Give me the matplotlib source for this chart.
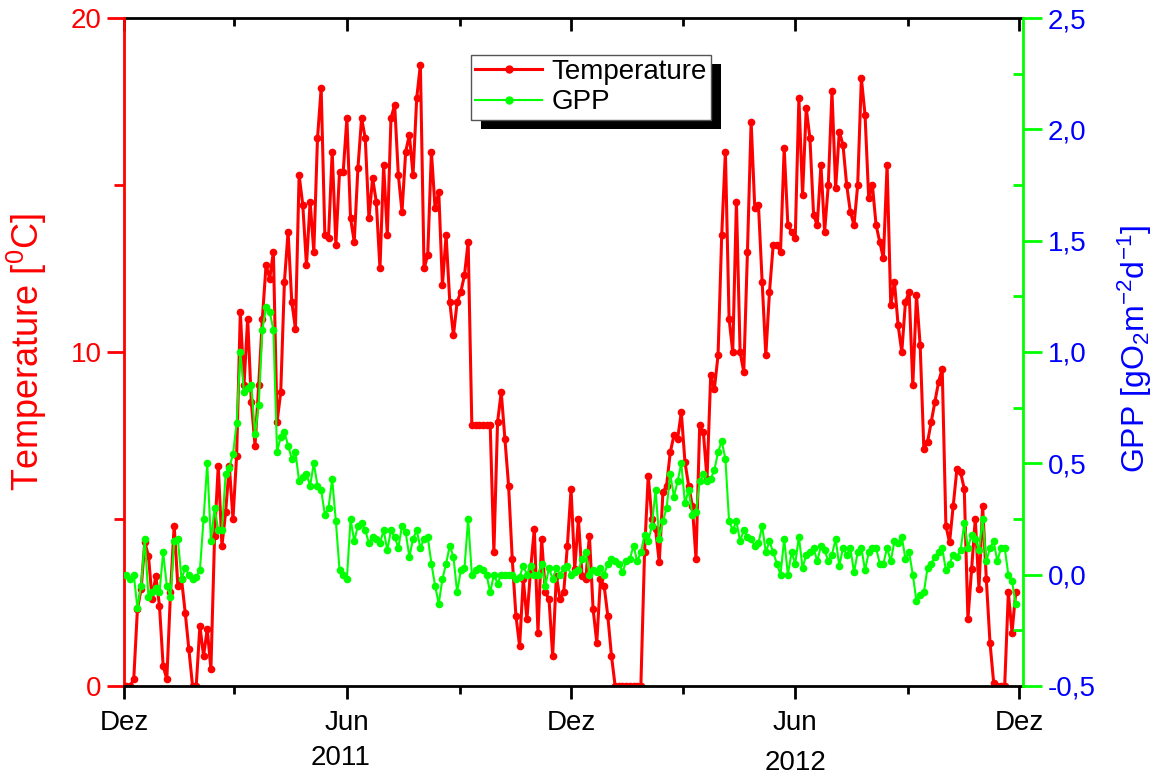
import pandas as pd
import matplotlib
matplotlib.use('Agg')
import matplotlib.pyplot as plt
import matplotlib.dates as mdates
import matplotlib.transforms as mtransforms
from matplotlib.patches import Rectangle
from matplotlib.ticker import MultipleLocator, FuncFormatter, NullFormatter

# values, one every 3 days from 3 Dec 2010
temperature = [
    0.0, 0.0, 0.2, 2.3, 2.9, 4.3, 3.9, 2.6, 3.3, 2.4,
    0.6, 0.2, 2.8, 4.8, 3.0, 3.2, 2.2, 1.1, 0.0, 0.0,
    1.8, 0.9, 1.7, 0.5, 4.5, 6.6, 4.2, 5.2, 6.6, 5.0,
    6.9, 11.2, 9.0, 11.0, 8.5, 7.2, 9.0, 11.0, 12.6, 12.2,
    13.0, 7.9, 8.8, 12.1, 13.6, 11.5, 10.7, 15.3, 14.4, 12.6,
    14.5, 13.0, 16.4, 17.9, 13.5, 13.4, 16.0, 13.2, 15.4, 15.4,
    17.0, 14.0, 13.3, 15.5, 17.0, 16.4, 14.0, 15.2, 14.5, 12.5,
    15.6, 13.5, 17.0, 17.4, 15.3, 14.2, 16.0, 16.5, 15.3, 17.6,
    18.6, 12.5, 12.9, 16.0, 14.3, 14.8, 12.0, 13.5, 11.5, 10.5,
    11.5, 11.8, 12.3, 13.3, 7.8, 7.8, 7.8, 7.8, 7.8, 7.8,
    4.0, 7.9, 8.8, 7.4, 6.0, 3.8, 2.1, 1.2, 3.2, 2.0,
    3.5, 4.7, 1.6, 4.4, 2.8, 2.6, 0.9, 3.3, 2.6, 2.8,
    4.2, 5.9, 3.5, 5.0, 3.3, 3.2, 4.5, 2.3, 1.3, 3.2,
    3.0, 2.1, 0.9, 0.0, 0.0, 0.0, 0.0, 0.0, 0.0, 0.0,
    0.0, 4.0, 6.3, 5.0, 4.7, 3.7, 5.8, 6.0, 7.0, 7.5,
    7.4, 8.2, 6.7, 6.0, 5.4, 3.8, 7.8, 7.6, 6.2, 9.3,
    8.9, 9.9, 13.5, 16.0, 11.0, 10.0, 14.5, 10.0, 9.4, 13.0,
    16.9, 14.3, 14.4, 12.1, 9.9, 11.8, 13.2, 13.2, 13.0, 16.1,
    13.8, 13.6, 13.4, 17.6, 14.7, 17.3, 16.4, 14.1, 13.8, 15.6,
    13.6, 15.0, 17.8, 14.9, 16.6, 16.2, 15.0, 14.2, 13.8, 15.0,
    18.2, 17.1, 14.6, 15.0, 13.8, 13.3, 12.8, 15.6, 11.4, 12.1,
    10.8, 10.0, 11.5, 11.8, 9.0, 11.7, 10.2, 7.1, 7.3, 7.9,
    8.5, 9.1, 9.5, 4.8, 4.3, 5.4, 6.5, 6.4, 5.9, 2.0,
    3.5, 5.0, 2.9, 5.4, 3.2, 1.3, 0.1, 0.0, 0.0, 0.0,
    2.8, 1.6, 2.8,
]

gpp = [
    0.0, -0.02, 0.0, -0.15, -0.05, 0.16, -0.1, -0.08, -0.06, -0.08,
    0.1, -0.05, -0.1, 0.15, 0.16, -0.02, 0.03, 0.0, -0.02, -0.01,
    0.02, 0.25, 0.5, 0.15, 0.3, 0.2, 0.2, 0.45, 0.48, 0.54,
    0.68, 1.0, 0.82, 0.84, 0.85, 0.63, 0.76, 1.1, 1.2, 1.18,
    1.1, 0.55, 0.62, 0.64, 0.58, 0.52, 0.55, 0.42, 0.44, 0.45,
    0.4, 0.5, 0.4, 0.38, 0.27, 0.3, 0.43, 0.24, 0.02, 0.0,
    -0.02, 0.25, 0.15, 0.22, 0.23, 0.2, 0.14, 0.17, 0.16, 0.14,
    0.2, 0.11, 0.2, 0.17, 0.12, 0.22, 0.19, 0.08, 0.16, 0.2,
    0.12, 0.16, 0.17, 0.05, -0.05, -0.13, -0.02, 0.05, 0.13, 0.08,
    -0.08, 0.02, 0.03, 0.25, 0.0, 0.02, 0.03, 0.02, 0.0, -0.08,
    0.0, -0.04, 0.0, 0.0, 0.0, 0.0, -0.02, -0.01, 0.04, 0.0,
    0.04, 0.0, 0.0, 0.05, -0.05, 0.03, -0.02, 0.03, 0.0, 0.03,
    0.04, 0.0, 0.01, 0.02, 0.07, 0.1, 0.0, 0.02, 0.01, 0.03,
    0.0, 0.05, 0.07, 0.06, 0.05, 0.01, 0.06, 0.07, 0.13, 0.06,
    0.1, 0.18, 0.15, 0.22, 0.38, 0.16, 0.24, 0.3, 0.45, 0.35,
    0.42, 0.5, 0.32, 0.38, 0.27, 0.28, 0.42, 0.45, 0.42, 0.43,
    0.47, 0.55, 0.6, 0.52, 0.24, 0.2, 0.24, 0.15, 0.2, 0.17,
    0.16, 0.13, 0.14, 0.22, 0.1, 0.15, 0.1, 0.05, 0.0, 0.16,
    0.0, 0.1, 0.05, 0.17, 0.03, 0.09, 0.1, 0.12, 0.06, 0.13,
    0.11, 0.06, 0.09, 0.16, 0.04, 0.12, 0.09, 0.12, 0.01, 0.1,
    0.12, 0.02, 0.1, 0.12, 0.12, 0.05, 0.05, 0.12, 0.06, 0.15,
    0.14, 0.17, 0.07, 0.1, 0.0, -0.12, -0.09, -0.08, 0.03, 0.05,
    0.08, 0.1, 0.12, 0.02, 0.05, 0.09, 0.08, 0.11, 0.23, 0.12,
    0.18, 0.16, 0.11, 0.25, 0.06, 0.12, 0.15, 0.06, 0.12, 0.12,
    0.0, -0.03, -0.13,
]

month_names = {6: 'Jun', 12: 'Dez'}
years = ['2011', '2012']

RED = '#ff0000'
GREEN = '#00ff00'
BLUE = '#0000ff'

plt.rcParams['font.family'] = ['Liberation Sans', 'DejaVu Sans']
plt.rcParams['mathtext.fontset'] = 'custom'
plt.rcParams['mathtext.rm'] = 'Liberation Sans'
plt.rcParams['mathtext.it'] = 'Liberation Sans:italic'

dates = pd.date_range('2010-12-03', periods=len(temperature), freq='3D')

fig = plt.figure(figsize=(11.53, 7.76), dpi=100)
ax = fig.add_axes([0.1075, 0.116, 0.7798, 0.8608])
ax2 = ax.twinx()

l1, = ax.plot(dates, temperature, color=RED, lw=2.2, marker='o', ms=4.5,
              label='Temperature')
l2, = ax2.plot(dates, gpp, color=GREEN, lw=1.5, marker='o', ms=4.5,
               label='GPP')

# x axis
ax.set_xlim(pd.Timestamp('2010-12-01'), pd.Timestamp('2012-12-04'))
ax.xaxis.set_major_locator(mdates.MonthLocator(bymonth=[6, 12]))
ax.xaxis.set_minor_locator(mdates.MonthLocator(bymonth=[3, 9]))
ax.xaxis.set_major_formatter(FuncFormatter(
    lambda v, p: month_names[mdates.num2date(v).month]))
ax.tick_params(axis='x', which='major', direction='out', length=9, width=2,
               labelsize=20, pad=8)
ax.tick_params(axis='x', which='minor', direction='out', length=6, width=2)

top = ax.secondary_xaxis('top')
top.xaxis.set_major_locator(mdates.MonthLocator(bymonth=[6, 12]))
top.xaxis.set_minor_locator(mdates.MonthLocator(bymonth=[3, 9]))
top.xaxis.set_major_formatter(NullFormatter())
top.tick_params(which='major', direction='in', length=9, width=2)
top.tick_params(which='minor', direction='in', length=6, width=2)
top.spines['top'].set_linewidth(2)

# year labels under the June ticks
trans = mtransforms.blended_transform_factory(ax.transData, ax.transAxes)
ax.text(pd.Timestamp('2011-05-27'), -0.108, years[0], transform=trans,
        ha='center', va='center', fontsize=20)
ax.text(pd.Timestamp('2012-06-01'), -0.116, years[1], transform=trans,
        ha='center', va='center', fontsize=20)

# left axis
ax.set_ylim(0, 20)
ax.yaxis.set_major_locator(MultipleLocator(10))
ax.yaxis.set_minor_locator(MultipleLocator(5))
ax.tick_params(axis='y', which='both', colors=RED, width=2, labelsize=20)
ax.tick_params(axis='y', which='major', length=12, pad=4)
ax.tick_params(axis='y', which='minor', length=7)
ax.set_ylabel('Temperature [$^0$C]', color=RED, fontsize=26)
ax.yaxis.set_label_coords(-0.083, 0.5)

# right axis
ax2.set_ylim(-0.5, 2.5)
ax2.yaxis.set_major_locator(MultipleLocator(0.5))
ax2.yaxis.set_minor_locator(MultipleLocator(0.25))
ax2.yaxis.set_major_formatter(FuncFormatter(
    lambda v, p: f'{v:.1f}'.replace('.', ',')))
ax2.tick_params(axis='y', which='major', direction='out', length=14,
                width=2, color=GREEN, labelcolor=BLUE, labelsize=20, pad=4)
ax2.tick_params(axis='y', which='minor', direction='in', length=7,
                width=2, color=GREEN)
ax2.set_ylabel('GPP [gO$_2$m$^{-2}$d$^{-1}$]', color=BLUE, fontsize=23)
ax2.yaxis.set_label_coords(1.103, 0.505)

for side in ['left', 'top', 'bottom']:
    ax2.spines[side].set_visible(False)
ax2.spines['right'].set_color(GREEN)
ax2.spines['right'].set_linewidth(2)
ax.spines['right'].set_visible(False)
ax.spines['top'].set_visible(False)
ax.spines['left'].set_color(RED)
ax.spines['left'].set_linewidth(2)
ax.spines['bottom'].set_linewidth(2)

leg = ax2.legend(handles=[l1, l2], loc='upper left',
                 bbox_to_anchor=(0.386, 0.9446), fontsize=20,
                 fancybox=False, framealpha=1, edgecolor='#555555',
                 handlelength=2.4, handletextpad=0.35, borderpad=0.15,
                 labelspacing=0.15, borderaxespad=0)
leg.get_frame().set_linewidth(1)
for h in leg.legend_handles:
    h.set_markersize(5)

# solid black shadow behind the legend box
fig.canvas.draw()
bb = leg.get_window_extent()
shadow = Rectangle((bb.x0 + 10, bb.y0 - 9), bb.width, bb.height,
                   transform=None, facecolor='black', edgecolor='none',
                   zorder=4.9)
ax2.add_artist(shadow)

fig.savefig('out.png', dpi=100)
